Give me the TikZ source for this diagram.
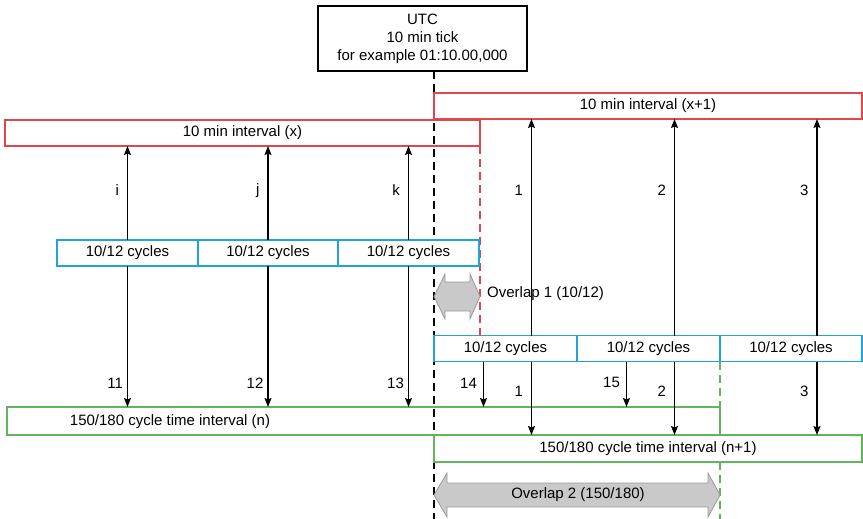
\documentclass[tikz,border=0pt]{standalone}
\usepackage{fontspec}
\setmainfont{Liberation Sans}
\usetikzlibrary{arrows.meta,positioning,calc}
\definecolor{tickred}{HTML}{E0474C}
\definecolor{cycblue}{HTML}{1FA3DC}
\definecolor{intgreen}{HTML}{62B45C}
\definecolor{ovgrey}{HTML}{C9C9C9}
\definecolor{ovedge}{HTML}{9A9A9A}

\begin{document}
\begin{tikzpicture}[x=1pt, y=-1pt,
  font=\fontsize{15}{18}\selectfont,
  utcbox/.style={draw=black, fill=white, line width=1.3pt, minimum width=209pt, minimum height=65pt, align=center, inner sep=0pt},
  tenmin/.style={draw=tickred, line width=1.4pt, minimum height=26pt, inner sep=0pt, outer sep=0pt},
  cyc/.style={draw=cycblue, fill=white, line width=1.4pt, minimum height=26pt, inner sep=0pt, outer sep=0pt},
  cycint/.style={draw=intgreen, line width=1.4pt, inner sep=0pt, outer sep=0pt},
  tick/.style={black, line width=1.4pt, dash pattern=on 8pt off 5pt},
  overlap/.style={draw=ovedge, fill=ovgrey, line width=0.8pt},
  arr/.style={-{Stealth[length=9pt, width=7pt, inset=1.5pt]}, black, line width=1.2pt},
  lbl/.style={inner sep=0pt}
]
\useasboundingbox (0,0) rectangle (863,519);
\coordinate (tickend) at (434,519);
\coordinate (tickstart) at (434,71);
\draw[tick] (tickstart) -- (tickend);
\node[utcbox] (utc) at (422.5,38.5) {UTC\\10 min tick\\for example 01:10.00,000};

% ten minute intervals
\node[tenmin, minimum width=475pt] (ivx) at (242.5,133) {10 min interval (x)};
\node[tenmin, minimum width=428pt] (ivx1) at (648,106) {10 min interval (x+1)};

% cycle blocks
\node[cyc, minimum width=143pt] (da) at (505.5,348.5) {10/12 cycles};
\node[cyc, minimum width=143pt, right=0pt of da] (db) {10/12 cycles};
\node[cyc, minimum width=142pt, right=0pt of db] (dc) {10/12 cycles};
\draw[tickred, line width=1.3pt, dash pattern=on 8pt off 5pt] (ivx.south east) -- (ivx.south east |- da.north);

\node[cyc, minimum width=141pt] (ca) at (127.5,253) {10/12 cycles};
\node[cyc, minimum width=140pt, right=0pt of ca] (cb) {10/12 cycles};
\node[cyc, minimum width=141pt, right=0pt of cb] (cc) {10/12 cycles};

% 150/180 cycle intervals
\node[cycint, minimum width=713pt, minimum height=28pt] (gn) at (363.5,421) {};
\node[lbl] (gntxt) at (170,422) {150/180 cycle time interval (n)};
\node[cycint, minimum width=428pt, minimum height=27pt] (gn1) at (648,448.5) {150/180 cycle time interval (n+1)};
\draw[intgreen, line width=1.3pt, dash pattern=on 8pt off 5pt] (db.south east) -- (db.south east |- gn.north);
\draw[intgreen, line width=1.3pt, dash pattern=on 8pt off 5pt] (gn1.south -| db.south east) -- (db.south east |- tickend);

% overlaps
\draw[overlap] (434,296.5) -- (445,274) -- (445,282) -- (470,282) -- (470,274) -- (480,296.5)
  -- (470,319) -- (470,311) -- (445,311) -- (445,319) -- cycle;
\node[lbl, anchor=west] (ov1) at (487,294) {Overlap 1 (10/12)};
\draw[overlap] (434,495) -- (447,473) -- (447,483) -- (708,483) -- (708,473) -- (720,495)
  -- (708,517) -- (708,507) -- (447,507) -- (447,517) -- cycle;
\node[lbl] (ov2) at (578,495) {Overlap 2 (150/180)};

% arrows of interval (x)
\foreach \c/\u/\d in {ca/i/11, cb/j/12, cc/k/13} {
  \draw[arr] (\c.north) -- node[lbl, left=8pt, pos=0.53] {\u} (\c.north |- ivx.south);
  \draw[arr] (\c.south) -- node[lbl, left=4pt, pos=0.83] {\d} (\c.south |- gn.north);
}
% arrows of interval (x+1)
\foreach \c/\u in {da/1, db/2, dc/3} {
  \draw[arr] ([xshift=26pt]\c.north) -- node[lbl, left=8pt, pos=0.67] {\u} ([xshift=26pt]\c.north |- ivx1.south);
  \draw[arr] ([xshift=26pt]\c.south) -- node[lbl, left=8pt, pos=0.41] {\u} ([xshift=26pt]\c.south |- gn1.north);
}
\foreach \c/\d in {da/14, db/15} {
  \draw[arr] ([xshift=-22pt]\c.south) -- node[lbl, left=6pt, pos=0.47] {\d} ([xshift=-22pt]\c.south |- gn.north);
}
\end{tikzpicture}
\end{document}
